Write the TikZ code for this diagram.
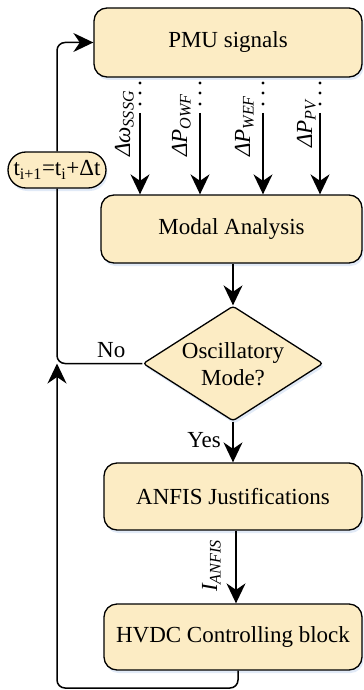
\documentclass[tikz,border=0pt]{standalone}
\usepackage{fontspec}
\setmainfont{Liberation Serif}
\usetikzlibrary{arrows.meta,shapes.geometric,calc,shadows}
\definecolor{boxfill}{RGB}{252,236,196}
\definecolor{glow}{RGB}{205,220,242}
\begin{document}
\begin{tikzpicture}[x=1bp,y=-1bp,
  font=\fontsize{23bp}{27bp}\selectfont,
  glowshadow/.style={drop shadow={shadow xshift=1.5bp, shadow yshift=-3bp, fill=glow, opacity=0.6}},
  box/.style={draw, line width=1.3bp, fill=boxfill, rounded corners=13bp, inner sep=0pt, glowshadow},
  decision/.style={diamond, draw, line width=1.3bp, fill=boxfill, minimum width=180bp, minimum height=115bp, inner sep=0pt, aspect=1.565, rounded corners=3bp, glowshadow},
  txt/.style={inner sep=0pt},
  lab/.style={rotate=90, anchor=base west, inner sep=0pt, font=\fontsize{23bp}{27bp}\selectfont\itshape},
  conn/.style={line width=1.5bp},
  arr/.style={line width=1.5bp, -{Stealth[length=20bp,width=19bp,inset=6.5bp]}}
]
\useasboundingbox (0,0) rectangle (363,690);

% nodes
\node[box, minimum width=268bp, minimum height=69bp] (pmu) at (228,42.5) {PMU signals};
\node[box, minimum width=261bp, minimum height=68bp] (modal) at (231.5,229) {Modal Analysis};
\node[decision] (dia) at (233,363.5) {};
\node[txt, align=center] (diatxt) at (233,364) {Oscillatory\\Mode?};
\node[box, minimum width=258bp, minimum height=67bp] (anfis) at (233,496.5) {ANFIS Justifications};
\node[box, minimum width=258bp, minimum height=66bp] (hvdc) at (233,637) {HVDC Controlling block};
\node[box, rounded corners=18bp, minimum width=98bp, minimum height=36bp] (tbox) at (57,170) {t\textsubscript{i+1}=t\textsubscript{i}+Δt};

% signal labels
\node[lab] (l1) at (130,157) {Δω\textsubscript{SSSG}};
\node[lab] (l2) at (187,157) {ΔP\textsubscript{OWF}};
\node[lab] (l3) at (250,157) {ΔP\textsubscript{WEF}};
\node[lab] (l4) at (312,148) {ΔP\textsubscript{PV}};
\node[lab] (l5) at (217,592) {I\textsubscript{ANFIS}};

% yes / no
\node[txt, anchor=base west] (no) at (97,357) {No};
\node[txt, anchor=base east] (yes) at (221,447) {Yes};

% signal connectors
\foreach \n/\x in {1/140,2/200,3/263,4/320}{
  \coordinate (s\n) at (\x,113);
  \foreach \y in {83,93,104} \fill (\x,\y) circle (1.7bp);
  \draw[arr] (s\n) -- (s\n |- modal.north);
}

% main flow
\draw[arr] (modal.south -| dia.north) -- (dia.north);
\draw[arr] (dia.south) -- (anfis.north);
\draw[arr] ($(anfis.south)+(3,0)$) -- ($(hvdc.north)+(3,0)$);

% feedback loop
\coordinate (hb) at ($(hvdc.south)+(5,0)$);
\coordinate (lowcorner) at (57,688);
\coordinate (join) at (57,363.5);
\draw[arr, rounded corners=8bp] (hb) |- (lowcorner) -- (join);
\draw[conn, rounded corners=8bp] (dia.west) -| (tbox.south);
\draw[arr, rounded corners=8bp] (tbox.north) |- (pmu.west);
\end{tikzpicture}
\end{document}
